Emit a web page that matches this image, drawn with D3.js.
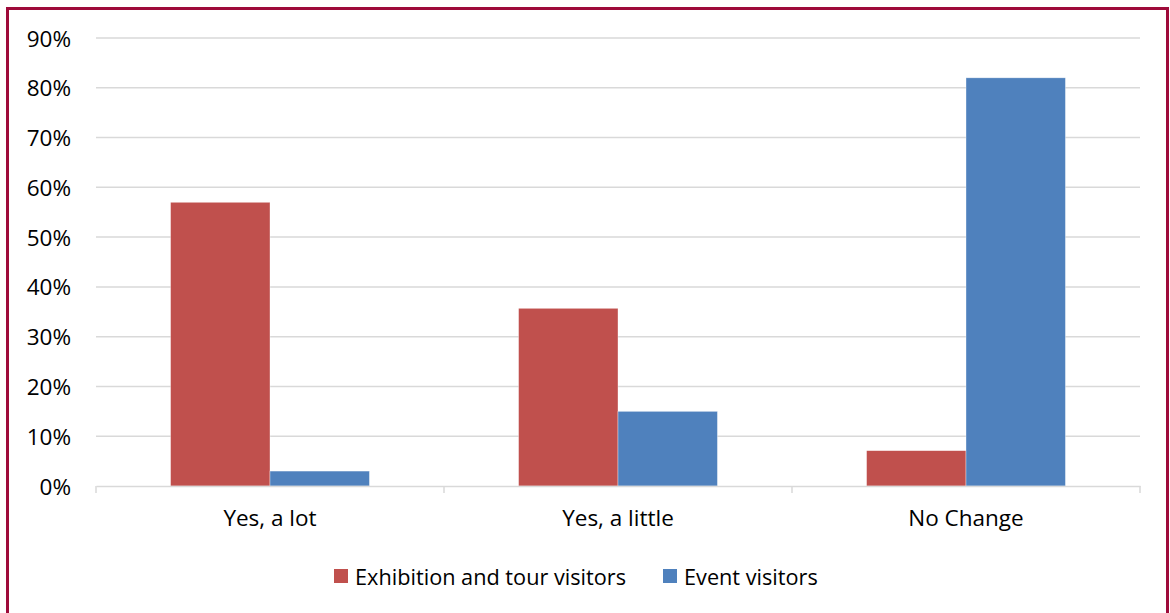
<!DOCTYPE html>
<html><head><meta charset="utf-8">
<script src="https://cdn.jsdelivr.net/npm/d3@7"></script>
<style>
html,body{margin:0;padding:0;background:#fff;}
svg text{font-family:"Open Sans",sans-serif;fill:#000;}
</style></head>
<body><svg id="c" width="1170" height="613"></svg>
<script>
const categories = ["Yes, a lot", "Yes, a little", "No Change"];
const seriesNames = ["Exhibition and tour visitors", "Event visitors"];
const exhibitionValues = [0.57, 0.357, 0.071];
const eventValues = [0.03, 0.15, 0.82];
const yTicks = [0, 0.1, 0.2, 0.3, 0.4, 0.5, 0.6, 0.7, 0.8, 0.9];
const colors = ["#C0504D", "#4F81BD"];

const svg = d3.select("#c");
const FONT = "'Open Sans',sans-serif";
// border
svg.append("rect").attr("x", 7.5).attr("y", 8.5).attr("width", 1160).attr("height", 620)
  .attr("fill", "#fff").attr("stroke", "#9E0B3A").attr("stroke-width", 3);

const mLeft = 96, mRight = 1140, mTop = 38, mBottom = 486;
const x = d3.scaleBand().domain(categories).range([mLeft, mRight]);
const inner = d3.scaleBand().domain(seriesNames).range([0, x.bandwidth()]).paddingOuter(0.75).paddingInner(0);
const y = d3.scaleLinear().domain([0, 0.9]).range([mBottom, mTop]);

// gridlines
svg.append("g").selectAll("line").data(yTicks.filter(d => d > 0)).join("line")
  .attr("x1", mLeft).attr("x2", mRight).attr("y1", d => y(d)).attr("y2", d => y(d))
  .attr("stroke", "#d9d9d9").attr("stroke-width", 1.5);

// y labels
const yAxis = d3.axisLeft(y).tickValues(yTicks).tickFormat(d3.format(".0%")).tickSize(0).tickPadding(25);
const ya = svg.append("g").attr("transform", `translate(${mLeft},0)`).call(yAxis);
ya.select(".domain").remove();
ya.selectAll("text").attr("font-size", 22.5).attr("dy", "0.36em").style("font-family", FONT);

// bars
const data = categories.map((c, i) => ({c, vals: [exhibitionValues[i], eventValues[i]]}));
const groups = svg.append("g").selectAll("g").data(data).join("g")
  .attr("transform", d => `translate(${x(d.c)},0)`);
groups.selectAll("rect").data(d => d.vals.map((v, j) => ({v, s: seriesNames[j], j}))).join("rect")
  .attr("x", d => inner(d.s)).attr("width", inner.bandwidth())
  .attr("y", d => y(d.v)).attr("height", d => y(0) - y(d.v))
  .attr("fill", d => colors[d.j]).attr("stroke", "#fff").attr("stroke-width", 0.6).attr("stroke-opacity", 0.6);

// x axis
const xAxis = d3.axisBottom(x).tickSize(0).tickPadding(24);
const xa = svg.append("g").attr("transform", `translate(0,${mBottom})`).call(xAxis);
xa.select(".domain").attr("stroke", "#d9d9d9").attr("stroke-width", 1.5);
xa.selectAll("text").attr("font-size", 22.5).style("font-family", FONT);
const bounds = [mLeft].concat(categories.map(c => x(c) + x.bandwidth()));
svg.append("g").selectAll("line").data(bounds).join("line")
  .attr("x1", d => d).attr("x2", d => d).attr("y1", mBottom).attr("y2", mBottom + 7)
  .attr("stroke", "#d9d9d9").attr("stroke-width", 1.5);

// legend
const legendItems = [{name: seriesNames[0], x: 334}, {name: seriesNames[1], x: 663}];
const lg = svg.append("g").selectAll("g").data(legendItems).join("g")
  .attr("transform", d => `translate(${d.x},569)`);
lg.append("rect").attr("width", 14).attr("height", 14).attr("fill", (d, i) => colors[i]);
lg.append("text").attr("x", 21).attr("y", 8).attr("dy", "0.36em").attr("font-size", 21.7).style("font-family", FONT).text(d => d.name);
</script></body></html>
